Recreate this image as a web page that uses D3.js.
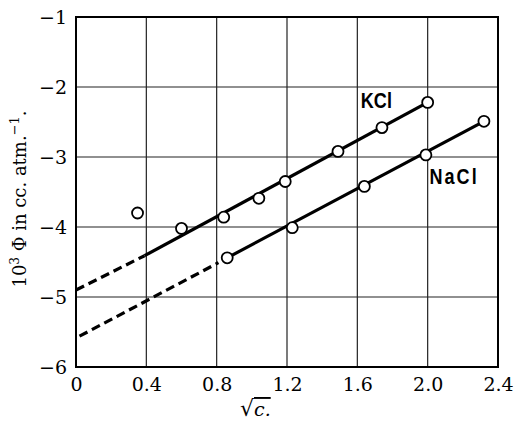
<!DOCTYPE html>
<html>
<head>
<meta charset="utf-8">
<script src="https://cdn.jsdelivr.net/npm/d3@7"></script>
<style>
  body { margin: 0; background: #fff; }
</style>
</head>
<body>
<div id="chart-area"></div>
<script>
// values
const xTicks = [0, 0.4, 0.8, 1.2, 1.6, 2.0, 2.4]
const yTicks = [-1, -2, -3, -4, -5, -6]

const kclX = [0.35, 0.60, 0.84, 1.04, 1.19, 1.49, 1.74, 2.00]
const kclY = [-3.80, -4.02, -3.86, -3.59, -3.35, -2.92, -2.58, -2.22]
const naclX = [0.86, 1.23, 1.64, 1.99, 2.32]
const naclY = [-4.44, -4.01, -3.42, -2.97, -2.49]

// fitted lines: solid part and dashed extrapolation
const kclSolid = [[0.39, -4.41], [2.00, -2.22]]
const kclDash = [[0.00, -4.90], [0.39, -4.41]]
const naclSolid = [[0.86, -4.44], [2.32, -2.49]]
const naclDash = [[0.02, -5.56], [0.81, -4.51]]

const serif = '"DejaVu Serif", "Liberation Serif", serif'
const canvas = { width: 515, height: 422 }
const margin = { left: 76, right: 17, top: 17, bottom: 55 }
const group = {
    width: canvas.width - margin.left - margin.right,
    height: canvas.height - margin.top - margin.bottom
}

const svg = d3.select('#chart-area')
    .append('svg')
    .attr('width', canvas.width)
    .attr('height', canvas.height)

const g = svg.append('g')
    .attr('transform', `translate(${margin.left},${margin.top})`)

const x = d3.scaleLinear().domain([0, 2.4]).range([0, group.width])
const y = d3.scaleLinear().domain([-6, -1]).range([group.height, 0])

// grid
g.append('g')
    .selectAll('line')
    .data(xTicks)
    .enter().append('line')
    .attr('x1', d => x(d)).attr('x2', d => x(d))
    .attr('y1', 0).attr('y2', group.height)
    .attr('stroke', '#222').attr('stroke-width', 1.2)
g.append('g')
    .selectAll('line')
    .data(yTicks)
    .enter().append('line')
    .attr('y1', d => y(d)).attr('y2', d => y(d))
    .attr('x1', 0).attr('x2', group.width)
    .attr('stroke', '#222').attr('stroke-width', 1.2)

// frame
g.append('rect')
    .attr('width', group.width).attr('height', group.height)
    .attr('fill', 'none').attr('stroke', '#000').attr('stroke-width', 2)

// axes
const fmt = d => (d < 0 ? '\u2212' + Math.abs(d) : d === 0 ? '0' : d.toFixed(1))
const xAxis = d3.axisBottom(x).tickValues(xTicks).tickSize(0).tickPadding(11).tickFormat(fmt)
const yAxis = d3.axisLeft(y).tickValues(yTicks).tickSize(0).tickPadding(9).tickFormat(fmt)

g.append('g')
    .attr('transform', `translate(0, ${group.height})`)
    .call(xAxis)
    .call(a => a.select('.domain').remove())
    .selectAll('text')
    .style('font-family', serif).style('font-size', '19px').attr('fill', '#000')

g.append('g')
    .call(yAxis)
    .call(a => a.select('.domain').remove())
    .selectAll('text')
    .style('font-family', serif).style('font-size', '19px').attr('fill', '#000')

// lines
const line = d3.line().x(d => x(d[0])).y(d => y(d[1]))
;[kclSolid, naclSolid].forEach(seg => {
    g.append('path').attr('d', line(seg))
        .attr('fill', 'none').attr('stroke', '#000').attr('stroke-width', 3.2)
})
;[kclDash, naclDash].forEach(seg => {
    g.append('path').attr('d', line(seg))
        .attr('fill', 'none').attr('stroke', '#000').attr('stroke-width', 3.2)
        .attr('stroke-dasharray', '9,5')
})

// points
const pts = kclX.map((v, i) => [v, kclY[i]]).concat(naclX.map((v, i) => [v, naclY[i]]))
g.selectAll('circle')
    .data(pts)
    .enter().append('circle')
    .attr('cx', d => x(d[0])).attr('cy', d => y(d[1]))
    .attr('r', 5.5)
    .attr('fill', '#fff').attr('stroke', '#000').attr('stroke-width', 1.8)

// series labels (condensed bold)
const labelFont = '"Liberation Sans", Arial, sans-serif'
g.append('text')
    .attr('transform', `translate(${x(1.62)}, ${y(-2.3)}) scale(0.82, 1)`)
    .attr('font-family', labelFont)
    .attr('font-weight', 'bold').attr('font-size', 22)
    .text('KCl')
g.append('text')
    .attr('transform', `translate(${x(2.01)}, ${y(-3.38)}) scale(0.82, 1)`)
    .attr('font-family', labelFont)
    .attr('font-weight', 'bold').attr('font-size', 22)
    .attr('letter-spacing', 2.5)
    .text('NaCl')

// axis titles
svg.append('text')
    .attr('transform', `translate(26, ${margin.top + y(-3.6)}) rotate(-90)`)
    .attr('text-anchor', 'middle')
    .style('font-family', serif)
    .style('font-size', '18px')
    .html('10<tspan dy="-7" font-size="12">3</tspan><tspan dy="7"> \u03A6 in cc. atm.</tspan><tspan dy="-7" font-size="13">\u22121</tspan><tspan dy="7">.</tspan>')

const xl = svg.append('text')
    .attr('x', margin.left + x(1.02)).attr('y', 416)
    .attr('text-anchor', 'middle')
    .style('font-family', serif)
    .style('font-size', '19px')
xl.append('tspan').style('font-size', '22px').text('\u221A')
xl.append('tspan').attr('font-style', 'italic').attr('text-decoration', 'overline').text('c.')
</script>
</body>
</html>
